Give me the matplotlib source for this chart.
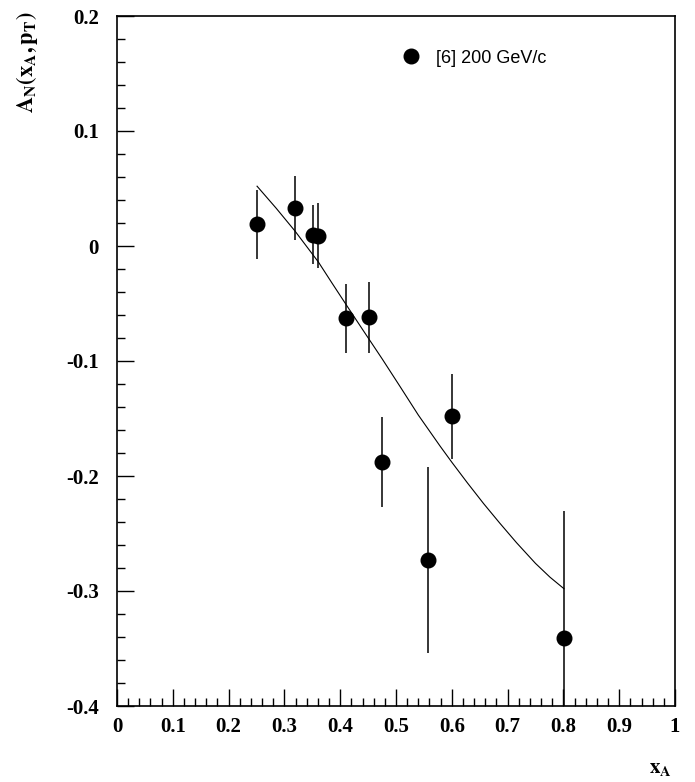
import matplotlib
matplotlib.use("Agg")
import matplotlib.pyplot as plt
from matplotlib.ticker import MultipleLocator, FixedLocator
from matplotlib.lines import Line2D

# Data points ([6] 200 GeV/c)
x_data = [0.251, 0.319, 0.351, 0.361, 0.410, 0.452, 0.475, 0.557, 0.601, 0.801]
y_data = [0.019, 0.033, 0.010, 0.009, -0.063, -0.062, -0.188, -0.273, -0.148, -0.341]
y_err = [0.030, 0.028, 0.026, 0.028, 0.030, 0.031, 0.039, 0.081, 0.037, 0.111]

# Theory curve
curve_x = [0.251, 0.285, 0.319, 0.361, 0.385, 0.412, 0.442, 0.475, 0.507, 0.540,
           0.579, 0.600, 0.628, 0.657, 0.686, 0.716, 0.750, 0.776, 0.801]
curve_y = [0.052, 0.033, 0.013, -0.014, -0.032, -0.052, -0.074, -0.098, -0.122, -0.147,
           -0.174, -0.188, -0.206, -0.224, -0.241, -0.258, -0.276, -0.288, -0.298]

x_ticks = [0, 0.1, 0.2, 0.3, 0.4, 0.5, 0.6, 0.7, 0.8, 0.9, 1]
x_tick_labels = ["0", "0.1", "0.2", "0.3", "0.4", "0.5", "0.6", "0.7", "0.8", "0.9", "1"]
y_ticks = [-0.4, -0.3, -0.2, -0.1, 0, 0.1, 0.2]
y_tick_labels = ["-0.4", "-0.3", "-0.2", "-0.1", "0", "0.1", "0.2"]

fig = plt.figure(figsize=(6.95, 7.82), dpi=100)
ax = fig.add_axes([117/695, 1-706/782, 558/695, 690/782])

ax.plot(curve_x, curve_y, color="black", lw=0.8)
ax.errorbar(x_data, y_data, yerr=y_err, fmt="o", color="black", ms=10.5,
            elinewidth=1.1, capsize=0)

ax.set_xlim(0, 1)
ax.set_ylim(-0.4, 0.2)

serif = {"family": "Liberation Serif", "weight": "bold", "size": 15}
ax.xaxis.set_major_locator(FixedLocator(x_ticks))
ax.set_xticklabels(x_tick_labels, fontdict=serif)
ax.yaxis.set_major_locator(FixedLocator(y_ticks))
ax.set_yticklabels(y_tick_labels, fontdict=serif)
ax.xaxis.set_minor_locator(MultipleLocator(0.02))
ax.yaxis.set_minor_locator(MultipleLocator(0.02))
ax.tick_params(which="both", direction="in", top=False, right=False, width=1, color="black")
ax.tick_params(which="major", length=12)
ax.tick_params(axis="x", which="major", pad=8)
ax.tick_params(axis="y", which="major", pad=13)
ax.tick_params(which="minor", length=6)
for s in ax.spines.values():
    s.set_linewidth(1.2)

handle = Line2D([], [], marker="o", ls="none", color="black", ms=10.5)
ax.legend([handle], ["[6] 200 GeV/c"], loc="upper left", bbox_to_anchor=(0.479, 0.975),
          frameon=False, prop={"family": "Liberation Sans", "size": 13},
          handletextpad=0.75, handlelength=1.2)

fig.text(27/695, 1-62/782, r"$\mathbf{A_N(x_A,p_T)}$", rotation=90, ha="center", va="center",
         fontsize=16, math_fontfamily="stix")
fig.text(660/695, 1-768/782, r"$\mathbf{x_A}$", ha="center", va="center",
         fontsize=15, math_fontfamily="stix")

fig.savefig("out.png", dpi=100)
